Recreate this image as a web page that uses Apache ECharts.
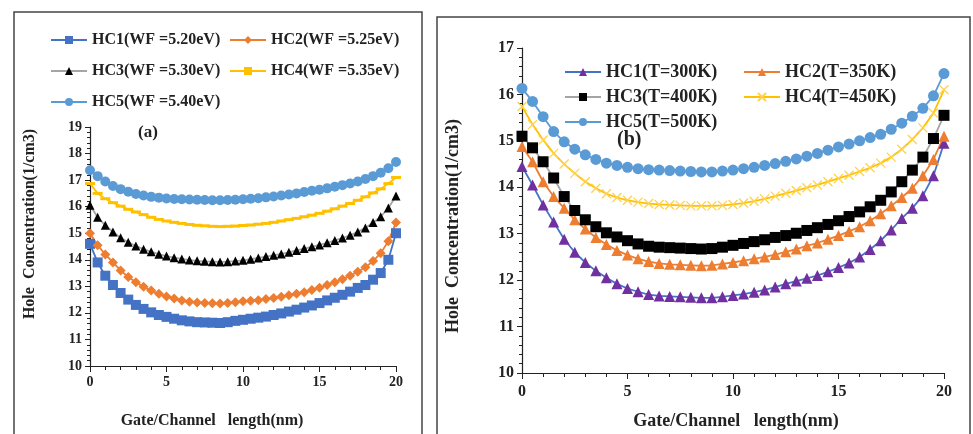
<!DOCTYPE html>
<html>
<head>
<meta charset="utf-8">
<script src="https://cdn.jsdelivr.net/npm/echarts@6/dist/echarts.min.js"></script>
<style>
  html, body { margin: 0; padding: 0; background: #fff; }
  #chart { width: 973px; height: 434px; }
</style>
</head>
<body>
<div id="chart"></div>
<script>
// gate/channel position (nm), shared by both panels
var xs = [0, 0.5, 1, 1.5, 2, 2.5, 3, 3.5, 4, 4.5, 5, 5.5, 6, 6.5, 7, 7.5, 8, 8.5, 9, 9.5,
  10, 10.5, 11, 11.5, 12, 12.5, 13, 13.5, 14, 14.5, 15, 15.5, 16, 16.5, 17, 17.5, 18, 18.5, 19, 19.5, 20];

// panel (a): work function sweep
var namesA = ['HC1(WF =5.20eV)', 'HC2(WF =5.25eV)', 'HC3(WF =5.30eV)', 'HC4(WF =5.35eV)', 'HC5(WF =5.40eV)'];
var a1 = [14.6, 13.9, 13.4, 13.05, 12.75, 12.5, 12.3, 12.15, 12.02, 11.92, 11.85, 11.78, 11.72, 11.68, 11.65, 11.64, 11.63, 11.62, 11.65, 11.7,
  11.74, 11.78, 11.82, 11.86, 11.92, 11.98, 12.05, 12.12, 12.2, 12.28, 12.37, 12.47, 12.57, 12.68, 12.8, 12.94, 13.05, 13.25, 13.5, 14.0, 15.0];
var a2 = [15.0, 14.55, 14.2, 13.9, 13.6, 13.35, 13.15, 12.98, 12.84, 12.72, 12.62, 12.54, 12.47, 12.42, 12.39, 12.37, 12.36, 12.35, 12.37, 12.4,
  12.44, 12.46, 12.48, 12.52, 12.56, 12.61, 12.66, 12.72, 12.78, 12.86, 12.95, 13.05, 13.15, 13.27, 13.4, 13.55, 13.72, 13.95, 14.25, 14.7, 15.4];
var a3 = [16.05, 15.6, 15.3, 15.05, 14.83, 14.66, 14.52, 14.4, 14.3, 14.21, 14.14, 14.08, 14.03, 13.99, 13.96, 13.94, 13.93, 13.92, 13.93, 13.95,
  13.98, 14.02, 14.07, 14.12, 14.17, 14.22, 14.28, 14.35, 14.42, 14.49, 14.56, 14.64, 14.73, 14.82, 14.92, 15.05, 15.2, 15.4, 15.62, 15.95, 16.4];
var a4 = [16.87, 16.5, 16.3, 16.15, 16.02, 15.9, 15.8, 15.7, 15.6, 15.52, 15.46, 15.41, 15.37, 15.33, 15.3, 15.28, 15.26, 15.25, 15.26, 15.27,
  15.29, 15.31, 15.34, 15.37, 15.41, 15.46, 15.51, 15.56, 15.62, 15.68, 15.75, 15.83, 15.92, 16.02, 16.12, 16.24, 16.37, 16.52, 16.67, 16.87, 17.1];
var a5 = [17.37, 17.15, 16.95, 16.78, 16.66, 16.56, 16.48, 16.42, 16.37, 16.34, 16.31, 16.29, 16.28, 16.27, 16.26, 16.25, 16.24, 16.24, 16.25, 16.26,
  16.28, 16.3, 16.32, 16.35, 16.38, 16.42, 16.46, 16.5, 16.55, 16.6, 16.64, 16.69, 16.75, 16.81, 16.87, 16.95, 17.04, 17.15, 17.28, 17.45, 17.68];

// panel (b): temperature sweep
var namesB = ['HC1(T=300K)', 'HC2(T=350K)', 'HC3(T=400K)', 'HC4(T=450K)', 'HC5(T=500K)'];
var b1 = [14.45, 14.05, 13.62, 13.25, 12.88, 12.6, 12.38, 12.2, 12.05, 11.92, 11.82, 11.75, 11.69, 11.66, 11.65, 11.64, 11.63, 11.62, 11.62, 11.64,
  11.67, 11.7, 11.74, 11.79, 11.85, 11.92, 11.98, 12.04, 12.1, 12.18, 12.27, 12.37, 12.5, 12.66, 12.85, 13.08, 13.33, 13.55, 13.82, 14.25, 14.95];
var b2 = [14.88, 14.55, 14.12, 13.8, 13.55, 13.3, 13.1, 12.92, 12.77, 12.64, 12.54, 12.46, 12.4, 12.36, 12.34, 12.33, 12.32, 12.31, 12.32, 12.35,
  12.38, 12.42, 12.46, 12.5, 12.55, 12.61, 12.67, 12.74, 12.8, 12.88, 12.96, 13.05, 13.15, 13.28, 13.43, 13.6, 13.78, 13.98, 14.25, 14.6, 15.1];
var b3 = [15.1, 14.85, 14.55, 14.2, 13.8, 13.5, 13.3, 13.15, 13.02, 12.93, 12.85, 12.78, 12.73, 12.71, 12.7, 12.69, 12.68, 12.67, 12.68, 12.71,
  12.75, 12.79, 12.83, 12.87, 12.92, 12.96, 13.01, 13.07, 13.13, 13.2, 13.28, 13.37, 13.47, 13.58, 13.72, 13.9, 14.12, 14.37, 14.65, 15.05, 15.55];
var b4 = [15.74, 15.35, 15.02, 14.73, 14.5, 14.3, 14.12, 13.98, 13.86, 13.78, 13.72, 13.68, 13.65, 13.63, 13.62, 13.61, 13.6, 13.6, 13.6, 13.61,
  13.63, 13.66, 13.7, 13.75, 13.81, 13.87, 13.93, 13.99, 14.05, 14.12, 14.19, 14.26, 14.34, 14.42, 14.52, 14.65, 14.82, 15.03, 15.28, 15.6, 16.1];
var b5 = [16.13, 15.85, 15.52, 15.2, 14.98, 14.82, 14.7, 14.6, 14.52, 14.47, 14.43, 14.4, 14.38, 14.37, 14.36, 14.35, 14.34, 14.33, 14.33, 14.35,
  14.37, 14.4, 14.43, 14.47, 14.51, 14.56, 14.61, 14.67, 14.73, 14.8, 14.87, 14.93, 15.0, 15.07, 15.14, 15.25, 15.38, 15.53, 15.7, 15.97, 16.45];

var serif = "'Liberation Serif', 'Times New Roman', serif";

function pairs(ys) {
  return xs.map(function (x, i) { return [x, ys[i]]; });
}

function makeSeries(name, ys, idx, symbol, size, markColor, lineColor, extra) {
  var s = {
    name: name,
    type: 'line',
    xAxisIndex: idx,
    yAxisIndex: idx,
    data: pairs(ys),
    symbol: symbol,
    symbolSize: size,
    showSymbol: true,
    itemStyle: { color: markColor },
    lineStyle: { color: lineColor, width: 1.8 },
    emphasis: { disabled: true },
    z: 3
  };
  if (extra) {
    s.itemStyle = extra;
  }
  return s;
}

function xAxisFor(idx, fs, labelMargin) {
  return {
    gridIndex: idx, type: 'value', min: 0, max: 20, interval: 5,
    axisLine: { onZero: false, lineStyle: { color: '#222', width: 1.2 } },
    axisTick: { length: 6, lineStyle: { color: '#222' } },
    minorTick: { show: true, splitNumber: 5, length: 4, lineStyle: { color: '#222' } },
    splitLine: { show: false },
    axisLabel: { color: '#222', fontFamily: serif, fontWeight: 'bold', fontSize: fs, margin: labelMargin }
  };
}

function yAxisFor(idx, min, max, fs) {
  return {
    gridIndex: idx, type: 'value', min: min, max: max, interval: 1,
    axisLine: { show: true, lineStyle: { color: '#222', width: 1.2 } },
    axisTick: { show: true, length: 5, lineStyle: { color: '#222' } },
    minorTick: { show: true, splitNumber: 5, length: 3, lineStyle: { color: '#222' } },
    splitLine: { show: false },
    axisLabel: { color: '#222', fontFamily: serif, fontWeight: 'bold', fontSize: fs, margin: 8 }
  };
}

function legendAt(name, left, top, fs) {
  return {
    data: [name], left: left, top: top, selectedMode: false,
    itemWidth: 36, itemHeight: 10, itemGap: 0,
    textStyle: { fontFamily: serif, fontWeight: 'bold', fontSize: fs, color: '#222' }
  };
}

var xPath = 'path://M0,0L10,10M10,0L0,10';

var option = {
  backgroundColor: '#fff',
  animation: false,
  grid: [
    { left: 90, right: 577, top: 127, bottom: 68 },
    { left: 522, right: 29, top: 48, bottom: 61 }
  ],
  xAxis: [xAxisFor(0, 14, 9), xAxisFor(1, 16, 11)],
  yAxis: [yAxisFor(0, 10, 19, 14), yAxisFor(1, 10, 17, 16)],
  legend: [
    legendAt(namesA[0], 45, 27, 16),
    legendAt(namesA[1], 224, 27, 16),
    legendAt(namesA[2], 45, 58, 16),
    legendAt(namesA[3], 224, 58, 16),
    legendAt(namesA[4], 45, 89, 16),
    legendAt(namesB[0], 559, 58, 18),
    legendAt(namesB[1], 738, 58, 18),
    legendAt(namesB[2], 559, 83, 18),
    legendAt(namesB[3], 738, 83, 18),
    legendAt(namesB[4], 559, 108, 18)
  ],
  series: [
    makeSeries(namesA[0], a1, 0, 'rect', 10, '#4472C4', '#4472C4'),
    makeSeries(namesA[1], a2, 0, 'diamond', 10, '#ED7D31', '#ED7D31'),
    makeSeries(namesA[2], a3, 0, 'triangle', 9, '#000', '#A5A5A5'),
    makeSeries(namesA[3], a4, 0, 'rect', [10, 3], '#FFC000', '#FFC000'),
    makeSeries(namesA[4], a5, 0, 'circle', 10, '#5B9BD5', '#5B9BD5'),
    makeSeries(namesB[0], b1, 1, 'triangle', 11, '#7030A0', '#4472C4'),
    makeSeries(namesB[1], b2, 1, 'triangle', 11, '#ED7D31', '#ED7D31'),
    makeSeries(namesB[2], b3, 1, 'rect', 11, '#000', '#A5A5A5'),
    makeSeries(namesB[3], b4, 1, xPath, 9, '#FFC000', '#FFC000',
      { color: 'rgba(0,0,0,0)', borderColor: '#FFD24D', borderWidth: 1.3 }),
    makeSeries(namesB[4], b5, 1, 'circle', 11, '#5B9BD5', '#5B9BD5')
  ],
  graphic: [
    // panel frames
    { type: 'rect', shape: { x: 14, y: 12, width: 408, height: 440 },
      style: { fill: 'none', stroke: '#444', lineWidth: 1.5 }, silent: true },
    { type: 'rect', shape: { x: 437, y: 17, width: 533, height: 440 },
      style: { fill: 'none', stroke: '#444', lineWidth: 1.5 }, silent: true },
    // panel tags
    { type: 'text', left: 138, top: 124,
      style: { text: '(a)', fontFamily: serif, fontWeight: 'bold', fontSize: 17, fill: '#222' } },
    { type: 'text', left: 617, top: 130,
      style: { text: '(b)', fontFamily: serif, fontWeight: 'bold', fontSize: 20, fill: '#222' } },
    // axis titles
    { type: 'text', x: 30, y: 224, rotation: Math.PI / 2,
      style: { text: 'Hole  Concentration(1/cm3)', fontFamily: serif, fontWeight: 'bold', fontSize: 16,
        fill: '#222', align: 'center', verticalAlign: 'middle' } },
    { type: 'text', x: 453, y: 226, rotation: Math.PI / 2,
      style: { text: 'Hole  Concentration(1/cm3)', fontFamily: serif, fontWeight: 'bold', fontSize: 18,
        fill: '#222', align: 'center', verticalAlign: 'middle' } },
    { type: 'text', x: 212, y: 421,
      style: { text: 'Gate/Channel   length(nm)', fontFamily: serif, fontWeight: 'bold', fontSize: 16,
        fill: '#222', align: 'center', verticalAlign: 'middle' } },
    { type: 'text', x: 736, y: 421,
      style: { text: 'Gate/Channel   length(nm)', fontFamily: serif, fontWeight: 'bold', fontSize: 18,
        fill: '#222', align: 'center', verticalAlign: 'middle' } }
  ]
};

var chart = echarts.init(document.getElementById('chart'));
chart.setOption(option);
</script>
</body>
</html>
